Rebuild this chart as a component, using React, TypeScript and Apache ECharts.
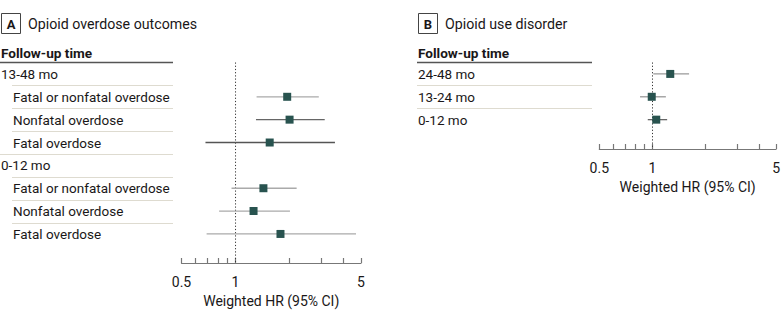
import React, { useEffect, useRef } from "react";
import * as echarts from "echarts";

// ---------- data ----------
const rowLabelsA = [
  "13-48 mo",
  "Fatal or nonfatal overdose",
  "Nonfatal overdose",
  "Fatal overdose",
  "0-12 mo",
  "Fatal or nonfatal overdose",
  "Nonfatal overdose",
  "Fatal overdose",
];
const rowLevelsA = [0, 1, 1, 1, 0, 1, 1, 1];
const hrA = [null, 1.94, 2.0, 1.55, null, 1.43, 1.26, 1.78];
const loA = [null, 1.31, 1.3, 0.68, null, 0.95, 0.81, 0.69];
const hiA = [null, 2.91, 3.14, 3.58, null, 2.19, 2.01, 4.69];

const rowLabelsB = ["24-48 mo", "13-24 mo", "0-12 mo"];
const rowLevelsB = [0, 0, 0];
const hrB = [1.26, 0.99, 1.05];
const loB = [1.01, 0.85, 0.94];
const hiB = [1.61, 1.19, 1.21];

const tickValues = [0.5, 0.6, 0.7, 0.8, 0.9, 1, 2, 3, 4, 5];
const tickLabels = [0.5, 1, 5];
const axisMin = 0.5;
const axisMax = 5;
const refValue = 1;

// ---------- styles ----------
const FONT = "Roboto";
const TEXT = "#1a1718";
const ciColorsA = ["#aaa", "#aaa", "#666", "#555", "#aaa", "#aaa", "#aaa", "#aaa"];
const ciColorsB = ["#999", "#999", "#666"];
const MARK = "#28534f";
const SEP = "#dedbd0";

const L = Math.log10;

function buildPanel(
  idx: number,
  labels: string[],
  levels: number[],
  hr: (number | null)[],
  lo: (number | null)[],
  hi: (number | null)[],
  ciColors: string[],
  labelX: number,
  sepRight: number,
  yMax: number
) {
  const ciData: any[] = [];
  hr.forEach((v, i) => {
    if (v != null) ciData.push([L(v), L(lo[i] as number), L(hi[i] as number), i + 0.5, i]);
  });
  const labelData = labels.map((_, i) => [0, i + 0.5, i]);

  const ciSeries = {
    type: "custom",
    xAxisIndex: idx,
    yAxisIndex: idx,
    clip: false,
    encode: { x: [0, 1, 2], y: 3 },
    data: ciData,
    renderItem: (params: any, api: any) => {
      const y = api.value(3);
      const row = api.value(4);
      const p = api.coord([api.value(0), y]);
      const a = api.coord([api.value(1), y]);
      const b = api.coord([api.value(2), y]);
      return {
        type: "group",
        children: [
          {
            type: "line",
            shape: { x1: a[0], y1: a[1], x2: b[0], y2: b[1] },
            style: { stroke: ciColors[row], lineWidth: 1.3 },
          },
          {
            type: "rect",
            shape: { x: p[0] - 4, y: p[1] - 4, width: 8, height: 8 },
            style: { fill: MARK },
          },
        ],
      };
    },
    z: 5,
  };

  const labelSeries = {
    type: "custom",
    xAxisIndex: idx,
    yAxisIndex: idx,
    clip: false,
    encode: { x: 0, y: 1 },
    data: labelData,
    renderItem: (params: any, api: any) => {
      const i = api.value(2);
      const yc = api.coord([0, api.value(1)])[1];
      const children: any[] = [
        {
          type: "text",
          x: labelX + (levels[i] === 1 ? 12 : 0),
          y: yc,
          style: {
            text: labels[i],
            fill: TEXT,
            font: `13.5px ${FONT}`,
            verticalAlign: "middle",
            align: "left",
          },
        },
      ];
      if (i < labels.length - 1) {
        const ys = Math.round(api.coord([0, i + 1])[1]) + 0.5;
        const x1 = labelX - 1 + (levels[i + 1] === 1 ? 12 : 0);
        children.push({
          type: "line",
          shape: { x1, y1: ys, x2: sepRight, y2: ys },
          style: { stroke: SEP, lineWidth: 1 },
        });
      }
      return { type: "group", children };
    },
  };

  const refSeries = {
    type: "line",
    xAxisIndex: idx,
    yAxisIndex: idx,
    symbol: "none",
    silent: true,
    data: [
      [L(refValue), 0],
      [L(refValue), yMax],
    ],
    lineStyle: { color: "#333", width: 1, type: [1.2, 2] },
    z: 1,
  };

  return [refSeries, ciSeries, labelSeries];
}

function xAxis(idx: number) {
  return {
    type: "value",
    gridIndex: idx,
    position: "bottom",
    min: L(axisMin),
    max: L(axisMax),
    axisLine: { show: true, onZero: false, lineStyle: { color: "#777", width: 1.2 } },
    axisTick: {
      show: true,
      inside: true,
      length: 5,
      customValues: tickValues.map(L),
      lineStyle: { color: "#777", width: 1.2 },
    },
    axisLabel: {
      show: true,
      customValues: tickLabels.map(L),
      formatter: (v: number) => String(+Math.pow(10, v).toFixed(2)),
      color: TEXT,
      fontFamily: FONT,
      fontSize: 14,
      margin: 12,
    },
    splitLine: { show: false },
    name: "Weighted HR (95% CI)",
    nameLocation: "middle",
    nameGap: 31,
    nameTextStyle: { color: TEXT, fontFamily: FONT, fontSize: 14 },
  };
}

function yAxis(idx: number, max: number) {
  return { type: "value", gridIndex: idx, inverse: true, min: 0, max, show: false };
}

function header(xLeft: number, letter: string, title: string, lineRight: number) {
  return [
    {
      type: "rect",
      shape: { x: xLeft + 0.5, y: 13.5, width: 19, height: 20 },
      style: { fill: "#fff", stroke: "#444", lineWidth: 1 },
    },
    {
      type: "text",
      x: xLeft + 10,
      y: 24,
      style: {
        text: letter,
        font: `bold 13px ${FONT}`,
        fill: TEXT,
        align: "center",
        verticalAlign: "middle",
      },
    },
    {
      type: "text",
      x: xLeft + 27,
      y: 24,
      style: {
        text: title,
        font: `14.2px ${FONT}`,
        fill: TEXT,
        align: "left",
        verticalAlign: "middle",
      },
    },
    {
      type: "text",
      x: xLeft,
      y: 53,
      style: {
        text: "Follow-up time",
        font: `bold 13.6px ${FONT}`,
        fill: TEXT,
        align: "left",
        verticalAlign: "middle",
      },
    },
    {
      type: "line",
      shape: { x1: xLeft - 1, y1: 62.5, x2: lineRight, y2: 62.5 },
      style: { stroke: "#555", lineWidth: 1.6 },
    },
  ];
}

export default function App() {
  const ref = useRef<HTMLDivElement>(null);
  useEffect(() => {
    if (!ref.current) return;
    const chart = echarts.init(ref.current, null, { renderer: "svg" });
    const rowH = 22.86;
    const maxA = 200.5 / rowH;
    const maxB = 86.5 / rowH;
    chart.setOption({
      animation: false,
      backgroundColor: "#fff",
      grid: [
        { left: 181.5, top: 62.5, width: 179.5, height: 200.5 },
        { left: 599.3, top: 62.5, width: 179.7, height: 86.5 },
      ],
      xAxis: [xAxis(0), xAxis(1)],
      yAxis: [yAxis(0, maxA), yAxis(1, maxB)],
      series: [
        ...buildPanel(0, rowLabelsA, rowLevelsA, hrA, loA, hiA, ciColorsA, 1, 173, maxA),
        ...buildPanel(1, rowLabelsB, rowLevelsB, hrB, loB, hiB, ciColorsB, 418, 592, maxB),
      ],
      graphic: [...header(1, "A", "Opioid overdose outcomes", 173), ...header(418, "B", "Opioid use disorder", 592)],
    });
    return () => chart.dispose();
  }, []);
  return (
    <div
      ref={ref}
      style={{ position: "fixed", left: 0, top: 0, width: 783, height: 318 }}
    />
  );
}
